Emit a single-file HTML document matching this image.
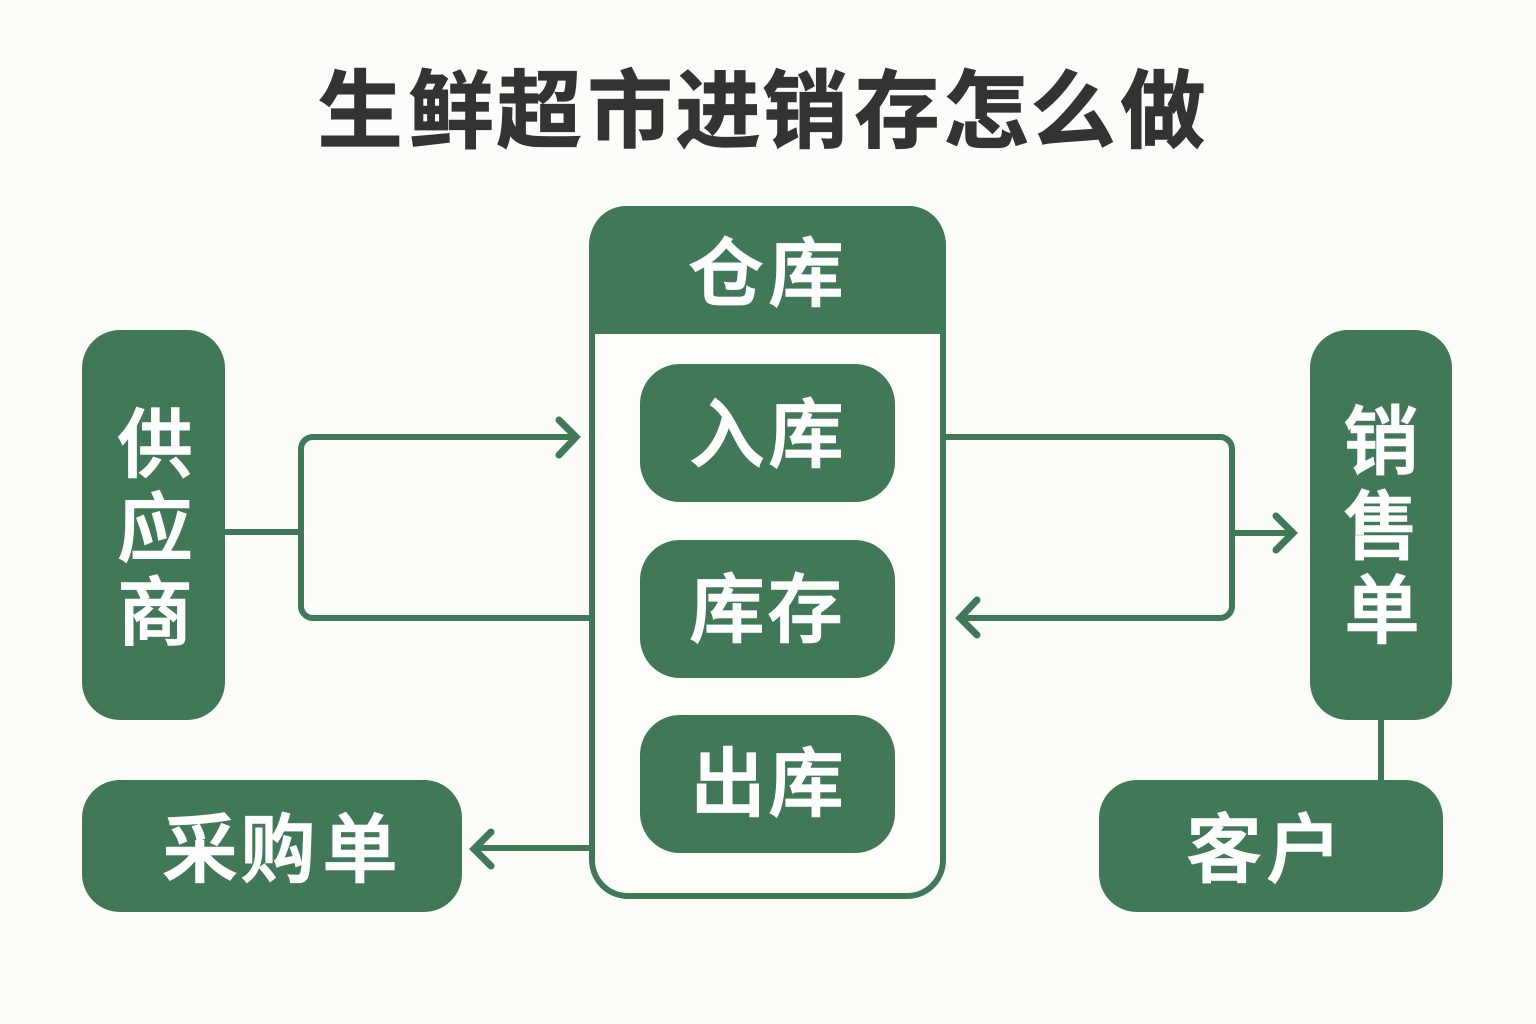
<!DOCTYPE html>
<html lang="zh">
<head>
<meta charset="utf-8">
<style>
html,body{margin:0;padding:0;background:#fcfcf8;}
svg{display:block;}
text{font-family:"Liberation Sans","Noto Sans CJK SC",sans-serif;font-weight:700;text-anchor:middle;}
.w{fill:#fff;font-size:75px;font-weight:500;stroke:#fff;stroke-width:1.6;}
.t{fill:#313432;font-size:85px;stroke:#313432;stroke-width:1.2;}
.l{fill:none;stroke:#417858;stroke-width:6;stroke-linecap:round;stroke-linejoin:round;}
.h{fill:none;stroke:#417858;stroke-width:7;stroke-linecap:round;stroke-linejoin:miter;}
.f{fill:#417858;}
</style>
</head>
<body>
<svg width="1536" height="1024" viewBox="0 0 1536 1024" xmlns="http://www.w3.org/2000/svg">
<rect width="1536" height="1024" fill="#fcfcf8"/>
<text class="t" x="360 451 539 630 718 805 897 986 1073 1163" y="141">生鲜超市进销存怎么做</text>

<rect x="592" y="209" width="351" height="687" rx="36" fill="#fdfdfa" stroke="#417858" stroke-width="6"/>
<path class="f" d="M590 334V242a36 36 0 0 1 36-36H909a36 36 0 0 1 36 36V334Z"/>
<text class="w" x="726 806" y="300">仓库</text>

<rect class="f" x="640" y="364" width="255" height="138" rx="40"/>
<text class="w" x="727 806" y="461">入库</text>
<rect class="f" x="640" y="540" width="255" height="138" rx="40"/>
<text class="w" x="727 805" y="636">库存</text>
<rect class="f" x="640" y="715" width="255" height="138" rx="40"/>
<text class="w" x="728 806" y="810">出库</text>

<rect class="f" x="82" y="330" width="143" height="390" rx="38"/>
<text class="w" x="155" y="471">供</text>
<text class="w" x="155" y="555">应</text>
<text class="w" x="155" y="639">商</text>

<rect class="f" x="1310" y="330" width="142" height="390" rx="38"/>
<text class="w" x="1381" y="468">销</text>
<text class="w" x="1381" y="553">售</text>
<text class="w" x="1382" y="637">单</text>

<rect class="f" x="82" y="780" width="380" height="132" rx="38"/>
<text class="w" x="200 278 360" y="876">采购单</text>
<rect class="f" x="1099" y="780" width="344" height="132" rx="38"/>
<text class="w" x="1224 1304" y="876">客户</text>

<path class="l" d="M226 532H301"/>
<path class="l" d="M590 618H313a12 12 0 0 1-12-12V449a12 12 0 0 1 12-12H574"/>
<path class="h" d="M559 420L576 437L559 455"/>
<path class="l" d="M946 437H1220a12 12 0 0 1 12 12V606a12 12 0 0 1-12 12H964"/>
<path class="h" d="M977 600L960 618L977 635"/>
<path class="l" d="M1234 533H1291"/>
<path class="h" d="M1276 516L1293 533L1276 550"/>
<path class="l" d="M590 848H478"/>
<path class="h" d="M491 832L474 849L491 866"/>
<path class="l" d="M1381 720V780" stroke-linecap="butt"/>
</svg>
</body>
</html>
